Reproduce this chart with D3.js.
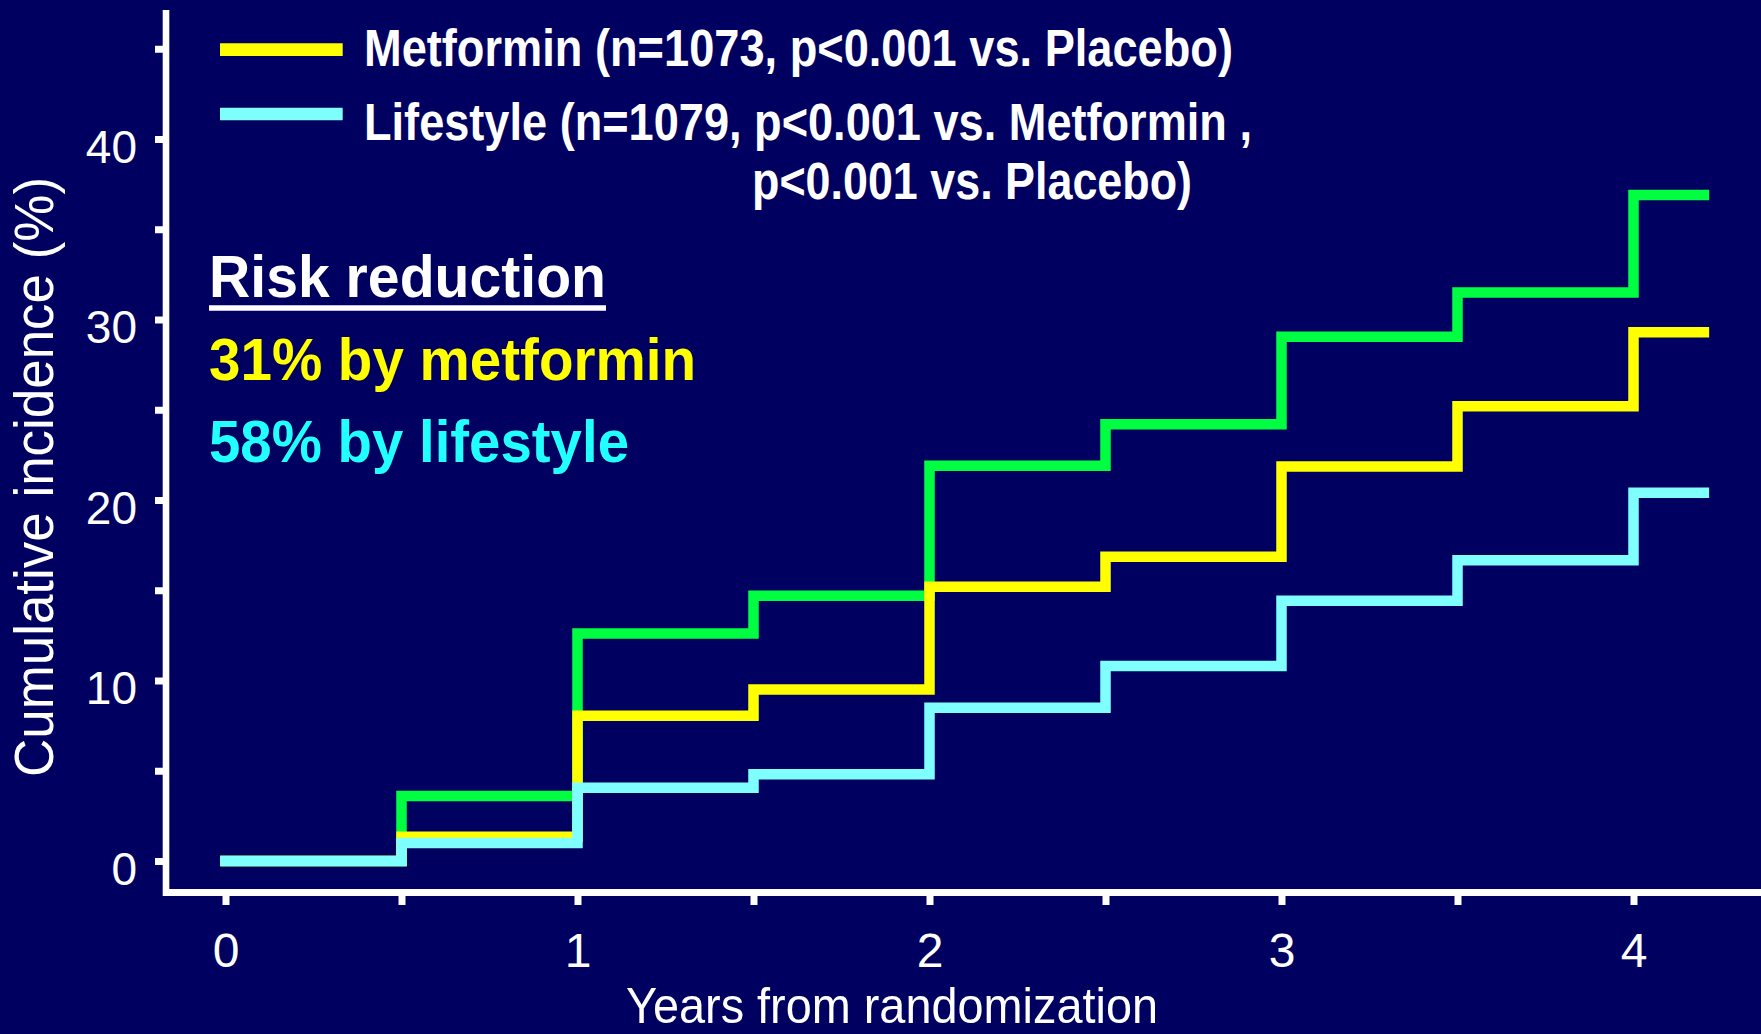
<!DOCTYPE html>
<html>
<head>
<meta charset="utf-8">
<script src="https://cdn.jsdelivr.net/npm/d3@7"></script>
<style>
  html, body { margin: 0; padding: 0; background: #000060; overflow: hidden; }
  svg { display: block; }
</style>
</head>
<body>
<svg id="chart" width="1761" height="1034"></svg>
<script>
// values (cumulative incidence, %)
var years     = [0, 0.5, 1, 1.5, 2, 2.5, 3, 3.5, 4, 4.2];
var placebo   = [0, 3.6, 12.6, 14.7, 21.9, 24.2, 29.05, 31.5, 36.9, 36.9];
var metformin = [0, 1.35, 8.05, 9.5, 15.2, 16.85, 21.85, 25.2, 29.3, 29.3];
var lifestyle = [0, 1.0, 4.06, 4.81, 8.49, 10.81, 14.42, 16.66, 20.4, 20.4];

var xTicks = [0, 0.5, 1, 1.5, 2, 2.5, 3, 3.5, 4];
var xLabels = [0, 1, 2, 3, 4];
var yTicks = [0, 5, 10, 15, 20, 25, 30, 35, 40, 45];
var yLabels = [0, 10, 20, 30, 40];

var seriesNames = ["Placebo", "Metformin", "Lifestyle"];
var seriesColors = ["#00ff40", "#ffff00", "#80ffff"];

var narrow = "'Liberation Sans Narrow', 'Arial Narrow', 'Liberation Sans', Arial, sans-serif";
var sans = "'Liberation Sans', Arial, sans-serif";

var svg = d3.select("#chart");

svg.append("rect")
  .attr("width", 1761)
  .attr("height", 1034)
  .attr("fill", "#000060");

var x = d3.scaleLinear().domain([0, 4]).range([225.5, 1633.5]);
var y = d3.scaleLinear().domain([0, 40]).range([861, 139]);

// Y axis
var yAxis = svg.append("g")
  .attr("transform", "translate(163,0)")
  .call(d3.axisLeft(y)
    .tickValues(yTicks)
    .tickSize(8)
    .tickSizeOuter(0)
    .tickPadding(18)
    .tickFormat(function(d) { return yLabels.indexOf(d) >= 0 ? d : ""; }));
yAxis.select(".domain").remove();
yAxis.selectAll(".tick line")
  .attr("stroke", "#fff")
  .attr("stroke-width", 7);
yAxis.selectAll(".tick text")
  .attr("fill", "#fff")
  .attr("dy", "0.51em")
  .style("font-family", narrow)
  .style("font-size", "46px");

// X axis
var xAxis = svg.append("g")
  .attr("transform", "translate(0,896)")
  .call(d3.axisBottom(x)
    .tickValues(xTicks)
    .tickSize(9)
    .tickSizeOuter(0)
    .tickFormat(function(d) { return xLabels.indexOf(d) >= 0 ? d : ""; }));
xAxis.select(".domain").remove();
xAxis.selectAll(".tick line")
  .attr("stroke", "#fff")
  .attr("stroke-width", 7);
xAxis.selectAll(".tick text")
  .attr("fill", "#fff")
  .attr("y", 71)
  .attr("dy", 0)
  .style("font-family", narrow)
  .style("font-size", "48px");

// axis lines
svg.append("line")
  .attr("x1", 166).attr("x2", 166)
  .attr("y1", 10).attr("y2", 896)
  .attr("stroke", "#fff")
  .attr("stroke-width", 6.6);
svg.append("line")
  .attr("x1", 163).attr("x2", 1761)
  .attr("y1", 892.5).attr("y2", 892.5)
  .attr("stroke", "#fff")
  .attr("stroke-width", 7);

// step lines
var line = d3.line()
  .curve(d3.curveStepAfter)
  .x(function(d) { return x(d.year); })
  .y(function(d) { return y(d.value); });

[placebo, metformin, lifestyle].forEach(function(values, i) {
  var data = years.map(function(yr, j) {
    return { year: yr, value: values[j] };
  });
  svg.append("path")
    .datum(data)
    .attr("class", "series " + seriesNames[i])
    .attr("fill", "none")
    .attr("stroke", seriesColors[i])
    .attr("stroke-width", 10.5)
    .attr("stroke-linecap", "square")
    .attr("stroke-linejoin", "miter")
    .attr("d", line);
});

// axis titles
svg.append("text")
  .attr("x", 626)
  .attr("y", 1023)
  .attr("fill", "#fff")
  .attr("textLength", 532)
  .attr("lengthAdjust", "spacingAndGlyphs")
  .style("font-family", narrow)
  .style("font-size", "50px")
  .text("Years from randomization");

svg.append("text")
  .attr("transform", "translate(53,777) rotate(-90)")
  .attr("fill", "#fff")
  .attr("textLength", 600)
  .attr("lengthAdjust", "spacingAndGlyphs")
  .style("font-family", sans)
  .style("font-size", "56px")
  .text("Cumulative incidence (%)");

// legend
var legendLines = [
  { color: "#ffff00", y: 49.7 },
  { color: "#80ffff", y: 114 }
];
legendLines.forEach(function(l) {
  svg.append("line")
    .attr("x1", 220).attr("x2", 342.7)
    .attr("y1", l.y).attr("y2", l.y)
    .attr("stroke", l.color)
    .attr("stroke-width", 12.7);
});

var legendText = [
  { x: 364, y: 66, w: 869, text: "Metformin (n=1073, p<0.001 vs. Placebo)" },
  { x: 364, y: 140, w: 888, text: "Lifestyle (n=1079, p<0.001 vs. Metformin ," },
  { x: 752, y: 199, w: 440, text: "p<0.001 vs. Placebo)" }
];
legendText.forEach(function(t) {
  svg.append("text")
    .attr("x", t.x)
    .attr("y", t.y)
    .attr("fill", "#fff")
    .attr("textLength", t.w)
    .attr("lengthAdjust", "spacingAndGlyphs")
    .style("font-family", narrow)
    .style("font-size", "51px")
    .style("font-weight", "bold")
    .text(t.text);
});

// risk reduction block
var riskText = [
  { text: "Risk reduction", color: "#ffffff", y: 297, w: 397 },
  { text: "31% by metformin", color: "#ffff00", y: 380, w: 487 },
  { text: "58% by lifestyle", color: "#22ffff", y: 462, w: 420 }
];
riskText.forEach(function(t) {
  svg.append("text")
    .attr("x", 209)
    .attr("y", t.y)
    .attr("fill", t.color)
    .attr("textLength", t.w)
    .attr("lengthAdjust", "spacingAndGlyphs")
    .style("font-family", sans)
    .style("font-size", "60px")
    .style("font-weight", "bold")
    .text(t.text);
});
svg.append("line")
  .attr("x1", 209).attr("x2", 606)
  .attr("y1", 308).attr("y2", 308)
  .attr("stroke", "#fff")
  .attr("stroke-width", 5.7);
</script>
</body>
</html>
